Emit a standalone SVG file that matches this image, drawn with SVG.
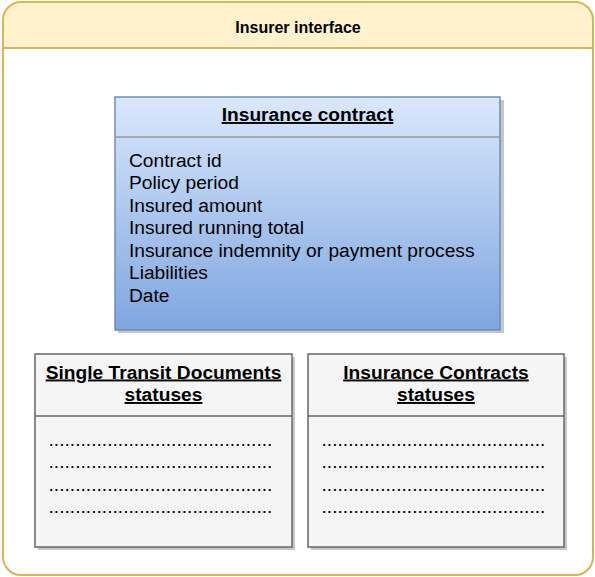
<svg xmlns="http://www.w3.org/2000/svg" width="595" height="577" viewBox="0 0 595 577">
  <defs>
    <linearGradient id="blueGrad" x1="0" y1="0" x2="0" y2="1">
      <stop offset="0" stop-color="#dae8fc"/>
      <stop offset="1" stop-color="#7ea6e0"/>
    </linearGradient>
  </defs>
  <style>
    text { font-family: "Liberation Sans", Arial, Helvetica, sans-serif; fill: #000000; }
    .title { font-weight: bold; font-size: 19.2px; text-decoration: underline; text-anchor: middle; }
    .body { font-size: 19.2px; }
    .dots { font-size: 19.2px; }
    .shadow { fill: #000000; fill-opacity: 0.22; stroke: none; }
    .status { fill: #f5f5f5; stroke: #666666; stroke-width: 1.5; }
    .statusline { stroke: #666666; stroke-width: 1.5; fill: none; }
  </style>

  <g id="insurer-interface">
    <rect x="3" y="2" width="590" height="573" rx="18" ry="18" fill="#ffffff" stroke="none"/>
    <path d="M3 48 V20 Q3 2 21 2 H575 Q593 2 593 20 V48 Z" fill="#fff2cc" stroke="none"/>
    <rect x="3" y="2" width="590" height="573" rx="18" ry="18" fill="none" stroke="#d6b656" stroke-width="2"/>
    <line x1="3" y1="48" x2="593" y2="48" stroke="#d6b656" stroke-width="2"/>
    <text x="298" y="33" font-size="16px" font-weight="bold" text-anchor="middle">Insurer interface</text>
  </g>

  <g id="insurance-contract">
    <rect class="shadow" x="118" y="100" width="386" height="233"/>
    <rect x="115" y="97" width="385" height="233" fill="url(#blueGrad)" stroke="#6c8ebf" stroke-width="1.5"/>
    <line x1="115" y1="137" x2="500" y2="137" stroke="#999999" stroke-width="1.5"/>
    <text class="title" x="307.5" y="121">Insurance contract</text>
    <text class="body" x="129" y="166.5">Contract id</text>
    <text class="body" x="129" y="189">Policy period</text>
    <text class="body" x="129" y="211.5">Insured amount</text>
    <text class="body" x="129" y="234">Insured running total</text>
    <text class="body" x="129" y="256.5">Insurance indemnity or payment process</text>
    <text class="body" x="129" y="279">Liabilities</text>
    <text class="body" x="129" y="301.5">Date</text>
  </g>

  <g id="single-transit-documents-statuses">
    <rect class="shadow" x="38" y="357" width="257" height="193"/>
    <rect class="status" x="35" y="354" width="257" height="193"/>
    <line class="statusline" x1="35" y1="416" x2="292" y2="416"/>
    <text class="title" x="163.5" y="378.5">Single Transit Documents</text>
    <text class="title" x="163.5" y="401">statuses</text>
    <text class="dots" x="48.5" y="445.5">..........................................</text>
    <text class="dots" x="48.5" y="468">..........................................</text>
    <text class="dots" x="48.5" y="490.5">..........................................</text>
    <text class="dots" x="48.5" y="513">..........................................</text>
  </g>

  <g id="insurance-contracts-statuses">
    <rect class="shadow" x="311" y="357" width="256" height="193"/>
    <rect class="status" x="308" y="354" width="256" height="193"/>
    <line class="statusline" x1="308" y1="416" x2="564" y2="416"/>
    <text class="title" x="436" y="378.5">Insurance Contracts</text>
    <text class="title" x="436" y="401">statuses</text>
    <text class="dots" x="321.5" y="445.5">..........................................</text>
    <text class="dots" x="321.5" y="468">..........................................</text>
    <text class="dots" x="321.5" y="490.5">..........................................</text>
    <text class="dots" x="321.5" y="513">..........................................</text>
  </g>

  <g id="connectors"/>
</svg>
